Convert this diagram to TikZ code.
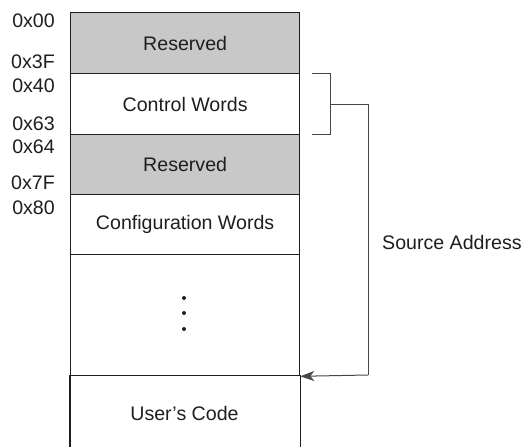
\documentclass[tikz,border=0pt]{standalone}
\usepackage{fontspec}
\setmainfont{Liberation Sans}
\usetikzlibrary{arrows.meta}
\definecolor{resgray}{RGB}{200,200,200}
\definecolor{ink}{RGB}{30,30,30}
\definecolor{brk}{RGB}{70,70,70}
\begin{document}
\begin{tikzpicture}[x=1pt,y=-1pt,
  every node/.style={font=\fontsize{19.6}{21}\selectfont, text=ink},
  region/.style={draw=ink, line width=1.3pt, minimum width=229pt, inner sep=0pt, anchor=north west},
  addr/.style={anchor=east, inner sep=0pt},
  conn/.style={draw=brk, line width=1pt}]
\useasboundingbox (0,0) rectangle (523,447);
% regions
\node[region, fill=resgray, minimum height=61pt] (r1) at (70,12) {Reserved};
\node[region, minimum height=61pt] (r2) at (70,73) {Control Words};
\node[region, fill=resgray, minimum height=60pt] (r3) at (70,134) {Reserved};
\node[region, minimum height=60pt] (r4) at (70,194) {Configuration Words};
\node[region, minimum height=121pt] (r5) at (70,254) {};
\node[region, draw=none, minimum height=72pt] (r6) at (70,375) {};
\node at (184.5,413) (uc) {User's Code};
\draw[ink, line width=1.3pt] (r6.north west) -- (r6.south west) (r6.north east) -- (r6.south east);
% dots
\fill[ink] (184,298) circle (2pt) (184,313) circle (2pt) (184,329) circle (2pt);
% addresses
\node[addr] (a00) at (55,21) {0x00};
\node[addr] (a3f) at (55,62) {0x3F};
\node[addr] (a40) at (55,86) {0x40};
\node[addr] (a63) at (55,124) {0x63};
\node[addr] (a64) at (55,147) {0x64};
\node[addr] (a7f) at (55,183) {0x7F};
\node[addr] (a80) at (55,208) {0x80};
% bracket and arrow
\coordinate (b1) at (312,73);
\coordinate (b2) at (330,73);
\coordinate (b3) at (330,134);
\coordinate (b4) at (312,134);
\coordinate (bm) at (330,104);
\coordinate (vt) at (368,104);
\coordinate (vb) at (368,375);
\draw[conn] (b1) -- (b2) -- (b3) -- (b4);
\draw[conn] (bm) -- (vt) -- (vb);
\draw[conn, -{Stealth[length=14pt,width=10pt,inset=4pt]}] (vb) -- (r5.south east);
\node[anchor=west, inner sep=0pt] (src) at (382,242) {Source Address};
\end{tikzpicture}
\end{document}
